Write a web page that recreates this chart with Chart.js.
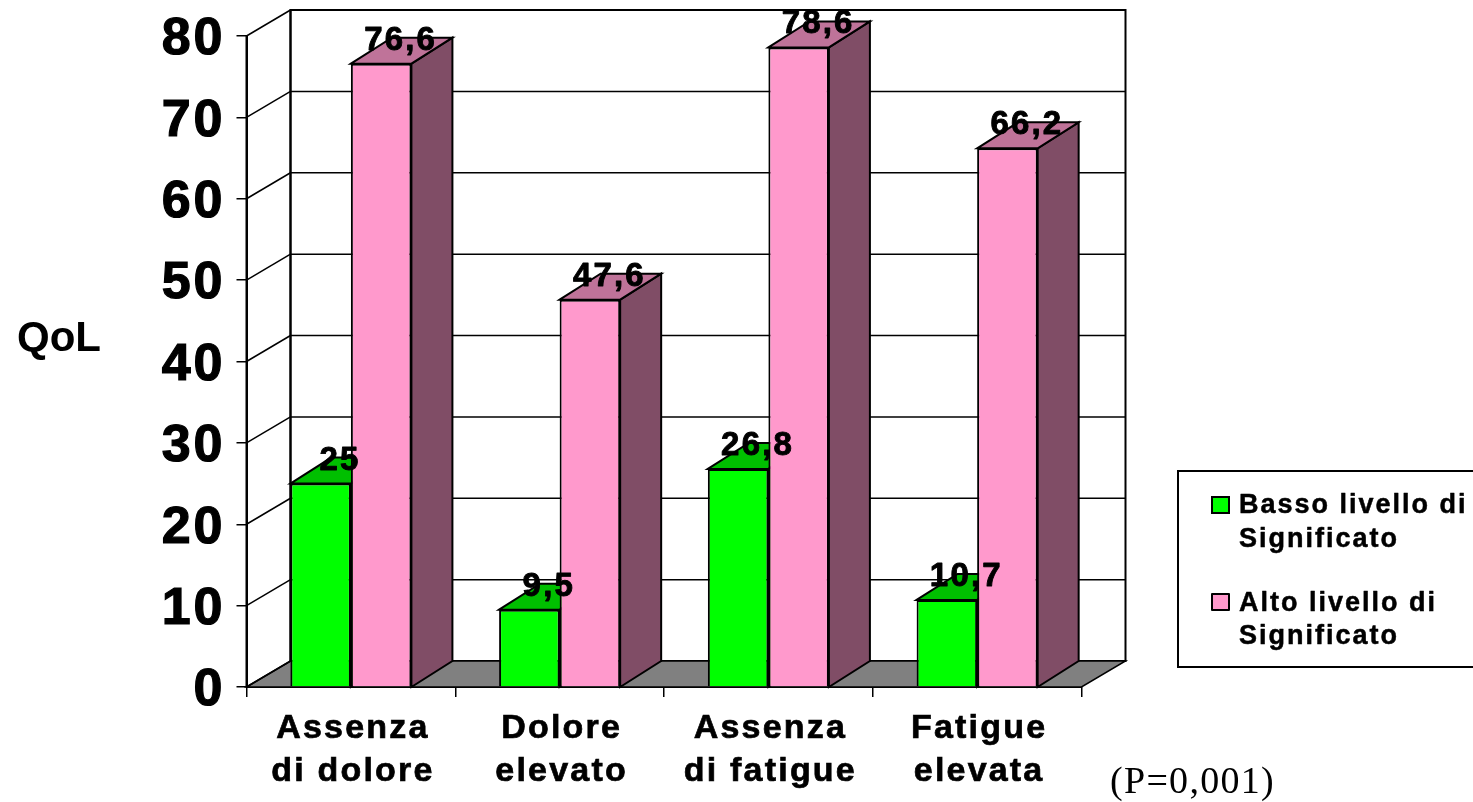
<!DOCTYPE html>
<html lang="it">
<head>
<meta charset="utf-8">
<title>QoL e livello di significato</title>
<script src="https://cdn.jsdelivr.net/npm/chart.js@4/dist/chart.umd.min.js"></script>
<style>
  html, body { margin: 0; padding: 0; background: #fff; overflow: hidden; }
  #wrap { position: relative; width: 1473px; height: 802px; }
</style>
</head>
<body>
<div id="wrap"><canvas id="chart" width="1473" height="802"></canvas></div>
<script>
const categories = [["Assenza", "di dolore"], ["Dolore", "elevato"], ["Assenza", "di fatigue"], ["Fatigue", "elevata"]];
const bassoValues = [25, 9.5, 26.8, 10.7];
const altoValues = [76.6, 47.6, 78.6, 66.2];
const bassoLabel = ["Basso livello di", "Significato"];
const altoLabel = ["Alto livello di", "Significato"];
const yTitle = "QoL";
const note = "(P=0,001)";

const SANS = '"Liberation Sans", Arial, sans-serif';
const SERIF = '"Liberation Serif", "Times New Roman", serif';
const INK = "#000";

// Projection of the room walls and of the bar depth
const WALL_DX = 44, WALL_DY = 26;
const BAR_DX = 41, BAR_DY = 26;

const faces = [
  { front: "#00FF00", top: "#00BF00", side: "#008000" },
  { front: "#FF99CC", top: "#BF7399", side: "#804D66" }
];

function poly(ctx, pts, fill, width) {
  ctx.beginPath();
  pts.forEach((p, i) => i ? ctx.lineTo(p[0], p[1]) : ctx.moveTo(p[0], p[1]));
  ctx.closePath();
  if (fill) { ctx.fillStyle = fill; ctx.fill(); }
  ctx.lineWidth = width;
  ctx.strokeStyle = INK;
  ctx.stroke();
}

function line(ctx, x1, y1, x2, y2, width) {
  ctx.beginPath();
  ctx.moveTo(x1, y1);
  ctx.lineTo(x2, y2);
  ctx.lineWidth = width;
  ctx.strokeStyle = INK;
  ctx.stroke();
}

// Heavy text: fill plus a thin outline of the same colour
function heavyText(ctx, text, x, y, weight) {
  ctx.lineWidth = weight;
  ctx.strokeStyle = INK;
  ctx.lineJoin = "round";
  ctx.strokeText(text, x, y);
  ctx.fillText(text, x, y);
}

// Tick labels are letter-spaced, which the scale options do not offer
function spacedLabels(scale, spacing) {
  if (scale.$spaced) return;
  scale.$spaced = true;
  const draw = scale.drawLabels;
  scale.drawLabels = function (area) {
    const c = this.ctx;
    c.save();
    c.letterSpacing = spacing;
    draw.call(this, area);
    c.restore();
  };
}

const room = {
  id: "room",
  beforeDatasetsDraw(chart) {
    const { ctx, scales: { x, y } } = chart;
    const l = x.left, r = x.right, b = y.bottom, t = y.top;
    ctx.save();
    poly(ctx, [[l + WALL_DX, t - WALL_DY], [r + WALL_DX, t - WALL_DY], [r + WALL_DX, b - WALL_DY], [l + WALL_DX, b - WALL_DY]], "#fff", 2);
    poly(ctx, [[l, b], [l + WALL_DX, b - WALL_DY], [r + WALL_DX, b - WALL_DY], [r, b]], "#808080", 1.5);
    y.ticks.forEach(tk => {
      const py = y.getPixelForValue(tk.value);
      if (tk.value > 0 && tk.value < 80) line(ctx, l + WALL_DX, py - WALL_DY, r + WALL_DX, py - WALL_DY, 1.5);
      line(ctx, l, py, l + WALL_DX, py - WALL_DY, 1.5);
    });
    line(ctx, l, t, l, b, 2);
    line(ctx, l + WALL_DX, t - WALL_DY, l + WALL_DX, b - WALL_DY, 2);

    // Depth faces go under the fronts that Chart.js draws next
    chart.data.labels.forEach((_, i) => {
      chart.data.datasets.forEach((ds, d) => {
        const bar = chart.getDatasetMeta(d).data[i];
        const x0 = bar.x - bar.width / 2, x1 = bar.x + bar.width / 2;
        const c = faces[d];
        poly(ctx, [[x1, bar.y], [x1 + BAR_DX, bar.y - BAR_DY], [x1 + BAR_DX, b - BAR_DY], [x1, b]], c.side, 2);
        poly(ctx, [[x0, bar.y], [x0 + BAR_DX, bar.y - BAR_DY], [x1 + BAR_DX, bar.y - BAR_DY], [x1, bar.y]], c.top, 2);
      });
    });
    ctx.restore();
  },
  afterDatasetsDraw(chart) {
    const { ctx } = chart;
    ctx.save();
    ctx.fillStyle = INK;
    ctx.textAlign = "center";
    ctx.textBaseline = "alphabetic";
    ctx.font = "bold 33px " + SANS;
    ctx.letterSpacing = "2.2px";
    chart.data.datasets.forEach((ds, d) => {
      chart.getDatasetMeta(d).data.forEach((bar, i) => {
        const text = String(ds.data[i]).replace(".", ",");
        heavyText(ctx, text, bar.x + BAR_DX / 2 - 1, bar.y - BAR_DY + 12, 0.9);
      });
    });
    ctx.restore();
  }
};

const annotations = {
  id: "annotations",
  afterDraw(chart) {
    const { ctx } = chart;
    ctx.save();
    ctx.textAlign = "left";
    ctx.textBaseline = "alphabetic";

    // Legend box runs off the right side of the page
    ctx.lineWidth = 2;
    ctx.strokeStyle = INK;
    ctx.fillStyle = "#fff";
    ctx.fillRect(1178, 471, 300, 196);
    ctx.strokeRect(1178, 471, 300, 196);

    const entries = [
      { lines: bassoLabel, color: faces[0].front, box: 497, base: [513, 547] },
      { lines: altoLabel, color: faces[1].front, box: 594, base: [611, 644] }
    ];
    entries.forEach(e => {
      ctx.fillStyle = e.color;
      ctx.fillRect(1212, e.box, 17, 16);
      ctx.lineWidth = 2;
      ctx.strokeStyle = INK;
      ctx.strokeRect(1212, e.box, 17, 16);
      ctx.fillStyle = INK;
      ctx.font = "bold 27px " + SANS;
      ctx.letterSpacing = "2px";
      e.lines.forEach((s, i) => heavyText(ctx, s, 1239, e.base[i], 0.5));
    });

    ctx.fillStyle = INK;
    ctx.font = "bold 42px " + SANS;
    ctx.letterSpacing = "0px";
    ctx.fillText(yTitle, 17, 351);

    ctx.font = "38px " + SERIF;
    ctx.letterSpacing = "1.3px";
    ctx.fillText(note, 1110, 793);
    ctx.restore();
  }
};

new Chart(document.getElementById("chart"), {
  type: "bar",
  data: {
    labels: categories,
    datasets: [
      { label: bassoLabel.join(" "), data: bassoValues, backgroundColor: faces[0].front, borderColor: INK, borderWidth: 2 },
      { label: altoLabel.join(" "), data: altoValues, backgroundColor: faces[1].front, borderColor: INK, borderWidth: 2 }
    ]
  },
  options: {
    responsive: false,
    animation: false,
    layout: { padding: { top: 36, right: 391.5, left: 0, bottom: 0 } },
    plugins: { legend: { display: false }, title: { display: false }, tooltip: { enabled: false } },
    datasets: { bar: { categoryPercentage: 0.58, barPercentage: 1 } },
    scales: {
      x: {
        afterFit(scale) {
          scale.height = 115;
          scale.paddingLeft = scale.paddingRight = 0;
          spacedLabels(scale, "2.2px");
        },
        border: { color: INK, width: 2 },
        grid: { drawOnChartArea: false, drawTicks: true, tickLength: 10, color: INK, lineWidth: 1.5 },
        ticks: {
          color: INK, padding: 11, labelOffset: 2, maxRotation: 0, autoSkip: false,
          textStrokeColor: INK, textStrokeWidth: 0.7,
          font: { family: SANS, size: 34, weight: "bold", lineHeight: 1.24 }
        }
      },
      y: {
        min: 0, max: 80,
        afterFit(scale) {
          scale.width = 246.5;
          scale.paddingTop = scale.paddingBottom = 0;
          spacedLabels(scale, "3px");
        },
        border: { color: INK, width: 2 },
        grid: { drawOnChartArea: false, drawTicks: true, tickLength: 10, color: INK, lineWidth: 1.5 },
        ticks: {
          stepSize: 10, color: INK, padding: 11, labelOffset: 4,
          textStrokeColor: INK, textStrokeWidth: 1.2,
          font: { family: SANS, size: 52, weight: "bold" }
        }
      }
    }
  },
  plugins: [room, annotations]
});
</script>
</body>
</html>
